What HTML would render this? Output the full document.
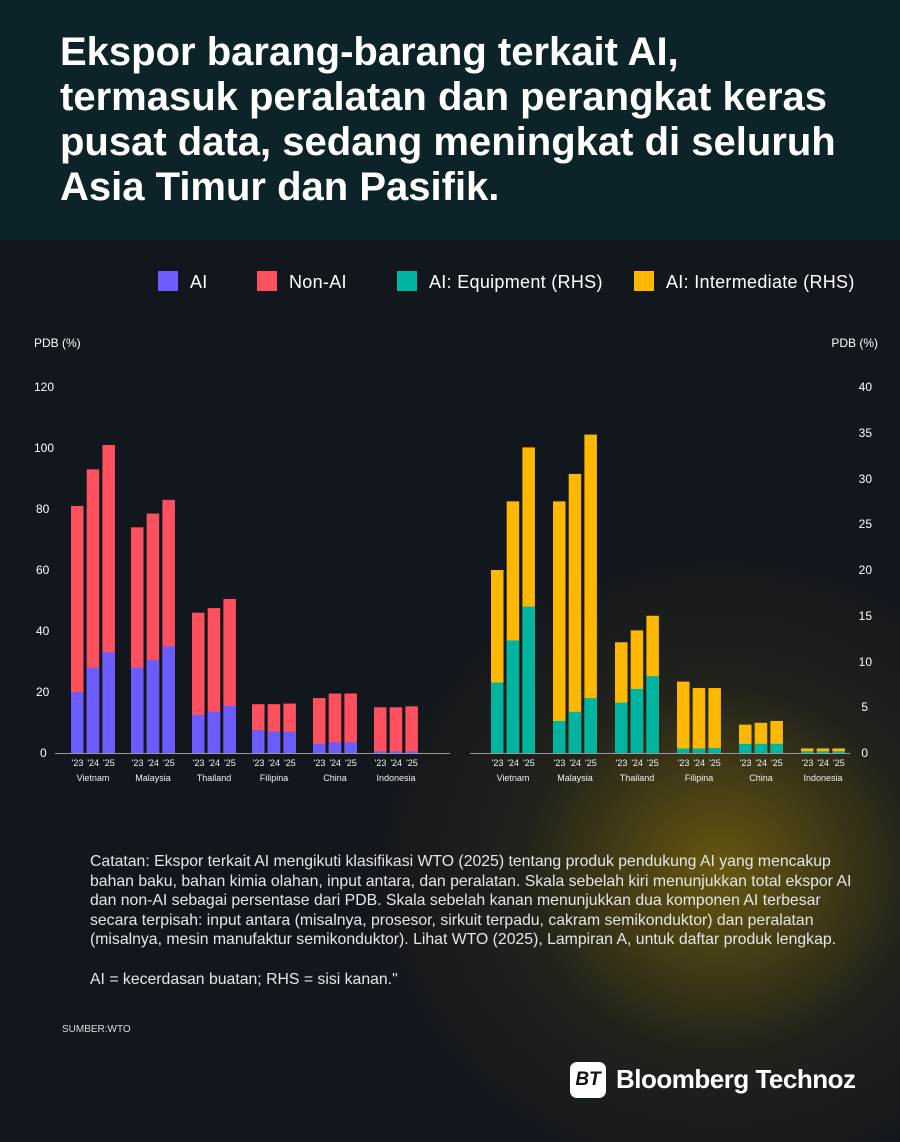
<!DOCTYPE html>
<html><head><meta charset="utf-8"><style>
body{margin:0;width:900px;height:1142px;overflow:hidden;font-family:"Liberation Sans",sans-serif;background:#12171e;position:relative;color:#fff}
.hdr{position:absolute;left:0;top:0;width:900px;height:240px;background:#0c2327}
.hdr h1{position:absolute;left:60px;top:30px;margin:0;font-size:40px;line-height:45px;font-weight:bold;letter-spacing:0;white-space:nowrap}
.glow{position:absolute;left:0;top:240px;width:900px;height:902px;background:radial-gradient(ellipse 360px 330px at 720px 630px,rgba(140,115,10,0.7),rgba(70,60,20,0.3) 55%,rgba(0,0,0,0) 100%)}
.note{position:absolute;left:90px;top:852px;font-size:15.8px;line-height:19.6px;color:#e6e6e6;white-space:nowrap}
.src{position:absolute;left:62px;top:1024px;font-size:10px;color:#ddd}
</style></head><body>
<div class="hdr"><h1>Ekspor barang-barang terkait AI,<br>termasuk peralatan dan perangkat keras<br>pusat data, sedang meningkat di seluruh<br>Asia Timur dan Pasifik.</h1></div>
<div class="glow"></div>
<svg width="900" height="1142" style="position:absolute;left:0;top:0" font-family="Liberation Sans, sans-serif">
<g font-size="18" fill="#fff" letter-spacing="0.3">
<rect x="158" y="271" width="20" height="20" fill="#6a5cff"/><text x="190" y="288">AI</text>
<rect x="257" y="271" width="20" height="20" fill="#ff5060"/><text x="289" y="288">Non-AI</text>
<rect x="397" y="271" width="20" height="20" fill="#00b5a0"/><text x="429" y="288">AI: Equipment (RHS)</text>
<rect x="634" y="271" width="20" height="20" fill="#ffb800"/><text x="666" y="288">AI: Intermediate (RHS)</text>
</g>
<g font-size="12" fill="#fff">
<text x="34" y="347">PDB (%)</text><text x="878" y="347" text-anchor="end">PDB (%)</text>
<text x="34" y="391">120</text><text x="34" y="452">100</text><text x="36" y="513">80</text><text x="36" y="574">60</text><text x="36" y="635">40</text><text x="36" y="696">20</text><text x="40" y="757">0</text>
<text x="872" y="391" text-anchor="end">40</text><text x="872" y="437" text-anchor="end">35</text><text x="872" y="483" text-anchor="end">30</text><text x="872" y="528" text-anchor="end">25</text><text x="872" y="574" text-anchor="end">20</text><text x="872" y="620" text-anchor="end">15</text><text x="872" y="666" text-anchor="end">10</text><text x="868" y="711" text-anchor="end">5</text><text x="868" y="757" text-anchor="end">0</text>
</g>
<line x1="55" y1="753.5" x2="450" y2="753.5" stroke="#999" stroke-width="1"/>
<line x1="470" y1="753.5" x2="850" y2="753.5" stroke="#999" stroke-width="1"/>
<g id="L"></g><g id="R"></g>
</svg>
<script>
const ns="http://www.w3.org/2000/svg";
function r(g,x,y,w,h,c){const e=document.createElementNS(ns,"rect");e.setAttribute("x",x);e.setAttribute("y",y);e.setAttribute("width",w);e.setAttribute("height",Math.max(h,0.5));e.setAttribute("fill",c);g.appendChild(e)}
function t(g,x,y,s,txt){const e=document.createElementNS(ns,"text");e.setAttribute("x",x);e.setAttribute("y",y);e.setAttribute("font-size",s);e.setAttribute("fill","#eee");e.setAttribute("text-anchor","middle");e.textContent=txt;g.appendChild(e)}
const names=["Vietnam","Malaysia","Thailand","Filipina","China","Indonesia"];
const L=document.getElementById("L"),R=document.getElementById("R");
const lx=[71,131,192,252,313,374];
const lt=[[81,93,101],[74,78.5,83],[46,47.5,50.5],[16,16,16.2],[18,19.5,19.5],[15,15,15.3]];
const la=[[20,28,33],[28,30.5,35],[12.5,13.5,15.5],[7.5,7,7],[3,3.5,3.5],[0.5,0.5,0.5]];
const rx=[491,553,615,677,739,801];
const rt=[[20,27.5,33.4],[27.5,30.5,34.8],[12.1,13.4,15],[7.8,7.1,7.1],[3.1,3.3,3.5],[0.5,0.5,0.5]];
const ra=[[7.7,12.3,16],[3.5,4.5,6],[5.5,7,8.4],[0.5,0.5,0.55],[1,1,1],[0.2,0.2,0.2]];
const yr=["'23","'24","'25"];
for(let i=0;i<6;i++){for(let j=0;j<3;j++){
 let x=lx[i]+j*15.7,s=3.05;
 r(L,x,753-lt[i][j]*s,12.5,lt[i][j]*s,"#ff5060");r(L,x,753-la[i][j]*s,12.5,la[i][j]*s,"#6a5cff");
 t(L,x+6.5,766,9,yr[j]);
 let X=rx[i]+j*15.7,S=9.15;
 r(R,X,753-rt[i][j]*S,12.5,rt[i][j]*S,"#ffb800");r(R,X,753-ra[i][j]*S,12.5,ra[i][j]*S,"#00b5a0");
 t(R,X+6.5,766,9,yr[j]);}
 t(L,lx[i]+22,781,9,names[i]);t(R,rx[i]+22,781,9,names[i]);}
</script>
<div class="note">Catatan: Ekspor terkait AI mengikuti klasifikasi WTO (2025) tentang produk pendukung AI yang mencakup<br>bahan baku, bahan kimia olahan, input antara, dan peralatan. Skala sebelah kiri menunjukkan total ekspor AI<br>dan non-AI sebagai persentase dari PDB. Skala sebelah kanan menunjukkan dua komponen AI terbesar<br>secara terpisah: input antara (misalnya, prosesor, sirkuit terpadu, cakram semikonduktor) dan peralatan<br>(misalnya, mesin manufaktur semikonduktor). Lihat WTO (2025), Lampiran A, untuk daftar produk lengkap.<br><br>AI = kecerdasan buatan; RHS = sisi kanan."</div>
<div class="src">SUMBER:WTO</div>
<div style="position:absolute;left:570px;top:1062px;width:36px;height:36px;background:#fff;border-radius:7px;color:#111;font-weight:bold;font-style:italic;font-size:19px;line-height:36px;text-align:center">BT</div>
<div style="position:absolute;left:616px;top:1064px;font-size:26px;font-weight:bold;letter-spacing:-0.5px">Bloomberg Technoz</div>
</body></html>
